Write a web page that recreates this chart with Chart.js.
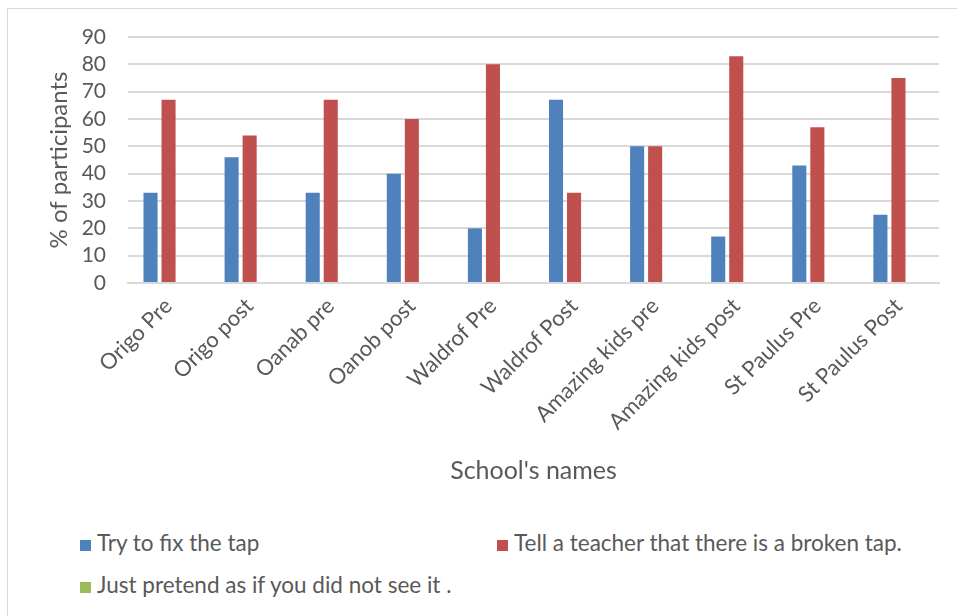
<!doctype html>
<html lang="en">
<head>
<meta charset="utf-8">
<title>School's names</title>
<script src="https://cdn.jsdelivr.net/npm/chart.js@4.4.1/dist/chart.umd.min.js"></script>
<style>
  body { margin: 0; background: #fff; }
  #frame { position: absolute; left: 7px; top: 8px; width: 970px; height: 630px; border: 1px solid #d9d9d9; }
  #myChart { position: absolute; left: 0; top: 0; }
  .leg { position: absolute; font-family: Lato, sans-serif; font-size: 22.5px; color: #595959; white-space: nowrap; line-height: 24px; }
  .leg span { display: inline-block; width: 11px; height: 11px; margin-right: 6px; vertical-align: 0px; }
</style>
</head>
<body>
<div id="frame"></div>
<canvas id="myChart" width="957" height="500"></canvas>
<div id="legend"></div>

<script>
var schools = ["Origo Pre", "Origo post", "Oanab pre", "Oanob post", "Waldrof Pre", "Waldrof Post", "Amazing kids pre", "Amazing kids post", "St Paulus Pre", "St Paulus Post"];
var fixTap = [33, 46, 33, 40, 20, 67, 50, 17, 43, 25];
var tellTeacher = [67, 54, 67, 60, 80, 33, 50, 83, 57, 75];
var pretend = [0, 0, 0, 0, 0, 0, 0, 0, 0, 0];
var seriesNames = ["Try to fix the tap", "Tell a teacher that there is a broken tap.", "Just pretend as if you did not see it ."];
var seriesColors = ["#4f81bd", "#c0504d", "#9bbb59"];

var grey = "#595959";
var ctx = document.getElementById("myChart");
var myChart = new Chart(ctx, {
  type: 'bar',
  data: {
    labels: schools,
    datasets: [fixTap, tellTeacher, pretend].map(function (d, i) {
      return { label: seriesNames[i], data: d, backgroundColor: seriesColors[i], borderWidth: 0 };
    })
  },
  options: {
    responsive: false,
    animation: false,
    categoryPercentage: 0.667,
    barPercentage: 0.78,
    layout: { padding: { left: 0, top: 37, right: 18, bottom: 0 } },
    plugins: { legend: { display: false }, tooltip: { enabled: false } },
    scales: {
      x: {
        grid: { display: false },
        border: { display: true, color: "#d9d9d9", width: 2 },
        ticks: { color: grey, font: { family: "Lato", size: 22 }, minRotation: 45, maxRotation: 45, padding: 2 },
        title: { display: true, text: "School's names", color: grey, font: { family: "Lato", size: 25 }, padding: { top: 0, bottom: 14 } },
        afterFit: function (s) { s.height = 500 - 283; }
      },
      y: {
        min: 0, max: 90,
        ticks: { stepSize: 10, autoSkip: false, color: grey, font: { family: "Lato", size: 21 }, padding: 22 },
        grid: { color: "#d9d9d9", lineWidth: 2, drawTicks: false },
        border: { display: false },
        title: { display: true, text: "% of participants", color: grey, font: { family: "Lato", size: 24 }, padding: { top: 45, bottom: 0 } },
        afterFit: function (s) { s.width = 128; }
      }
    }
  }
});

// legend laid out like the original: two columns, third item on a second row
var legendPos = [[80, 531], [497, 531], [80, 573]];
var legend = document.getElementById("legend");
seriesNames.forEach(function (name, i) {
  var div = document.createElement("div");
  div.className = "leg";
  div.style.left = legendPos[i][0] + "px";
  div.style.top = legendPos[i][1] + "px";
  div.innerHTML = '<span style="background:' + seriesColors[i] + '"></span>' + name;
  legend.appendChild(div);
});
</script>
</body>
</html>
